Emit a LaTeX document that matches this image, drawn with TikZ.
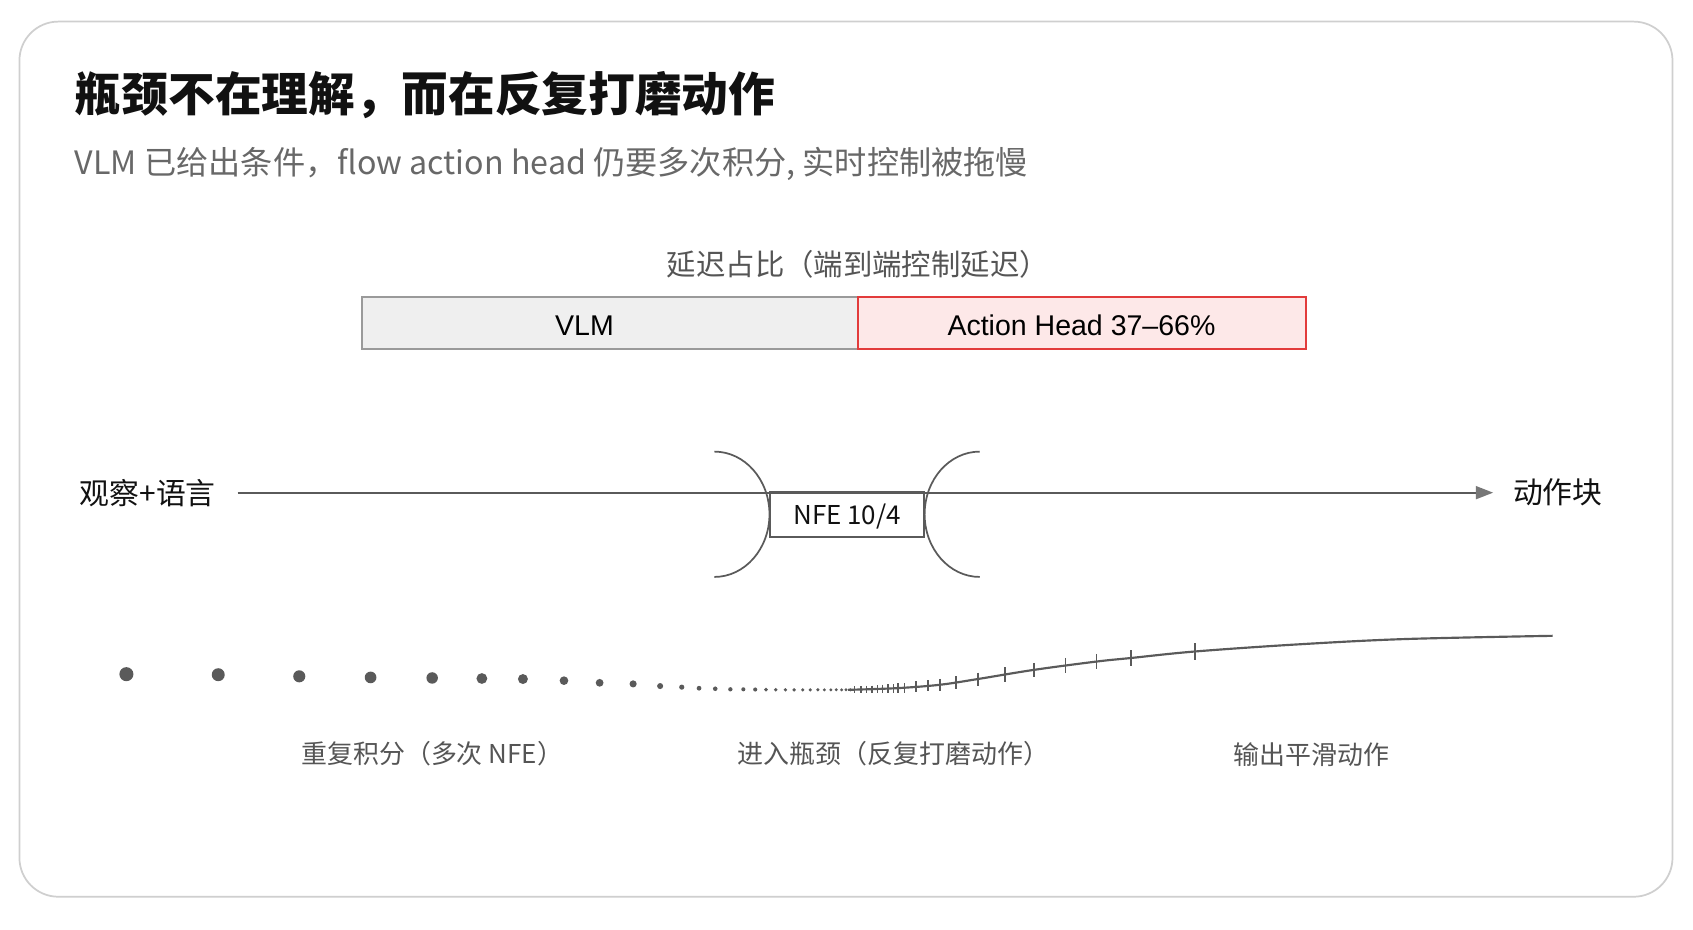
\documentclass[tikz,border=0pt]{standalone}
\usepackage{fontspec}
\setmainfont{Noto Sans CJK SC}
\newfontfamily\cjk{Noto Sans CJK SC}
\newfontfamily\latn{Liberation Sans}
\usetikzlibrary{arrows.meta}
\definecolor{framec}{HTML}{CFCFCF}
\definecolor{titlec}{HTML}{111111}
\definecolor{subc}{HTML}{686868}
\definecolor{labc}{HTML}{555555}
\definecolor{linec}{HTML}{5A5A5A}
\definecolor{vlmfill}{HTML}{EFEFEF}
\definecolor{vlmdraw}{HTML}{9A9A9A}
\definecolor{ahfill}{HTML}{FDE8E8}
\definecolor{ahdraw}{HTML}{E23B3B}
\definecolor{tipc}{HTML}{777777}
\tikzset{
  lab/.style={inner sep=0pt, text=labc, font=\cjk\fontsize{12pt}{13pt}\selectfont},
  barbox/.style={minimum height=24pt, inner sep=0pt, line width=0.7pt},
  bartxt/.style={inner sep=0pt, font=\latn\fontsize{13.2pt}{14pt}\selectfont, text=black},
  axlab/.style={inner sep=0pt, text=titlec, font=\cjk\fontsize{13.8pt}{15pt}\selectfont},
  gline/.style={draw=linec, line width=0.8pt},
  tickc/.style={draw=linec, line width=0.7pt},
}
\begin{document}
\begin{tikzpicture}[x=0.5pt,y=-0.5pt]
\useasboundingbox (0,0) rectangle (1567,860);
\fill[white] (0,0) rectangle (1567,860);
\draw[framec, line width=0.8pt, fill=white, rounded corners=18pt] (18,20) rectangle (1548,830);

\node[anchor=west, inner sep=0pt, text=titlec, font=\cjk\bfseries\fontsize{21.6pt}{24pt}\selectfont] (title) at (69,88) {瓶颈不在理解，而在反复打磨动作};
\node[anchor=west, inner sep=0pt, text=subc, font=\cjk\fontsize{14.9pt}{16pt}\selectfont] (subtitle) at (69,152) {VLM 已给出条件，flow action head 仍要多次积分, 实时控制被拖慢};

\node[inner sep=0pt, text=labc, font=\cjk\fontsize{13.6pt}{15pt}\selectfont] (barlabel) at (794,245) {延迟占比（端到端控制延迟）};
\node[barbox, draw=vlmdraw, fill=vlmfill, minimum width=229.5pt] (vlm) at (564.5,299) {};
\node[barbox, draw=ahdraw, fill=ahfill, minimum width=207.5pt] (ah) at (1001.5,299) {};
\node[bartxt] (vlmt) at (541,301) {VLM};
\node[bartxt] (aht) at (1001,301) {Action Head 37–66\%};

\node[axlab, anchor=east] (in) at (200,456) {观察+语言};
\node[axlab, anchor=west] (out) at (1400,456) {动作块};

\node[draw=linec, line width=0.8pt, minimum width=71pt, minimum height=21pt, inner sep=0pt] (nfe) at (784,476) {};
\node[inner sep=0pt, font=\fontsize{12pt}{13pt}\selectfont, text=titlec] (nfet) at (784,478) {NFE 10/4};

\draw[gline, -{Triangle[length=8pt,width=6pt,color=tipc]}, shorten <=10pt, shorten >=9pt] (in.east) -- (out.west);

\draw[gline] ([xshift=-25.5pt,yshift=29pt]nfe.west) arc[start angle=90, end angle=-90, x radius=25.5pt, y radius=29pt];
\draw[gline] ([xshift=25.5pt,yshift=29pt]nfe.east) arc[start angle=90, end angle=270, x radius=25.5pt, y radius=29pt];

% integration dots
\foreach \x/\y/\r in {117/624/6.5, 202/624.5/6, 277/626/5.6, 343/627/5.4, 400/627.5/5.3, 446/628/5, 484/628.5/4.6, 522/630/4, 555/632/3.6, 586/633/3.3, 611/635/2.8, 631/636/2.4, 647/637/2.2, 662/637.5/2.1, 676/638/2, 688/638/1.9, 699/638.2/1.9, 709/638.3/1.8, 718/638.4/1.8, 727/638.5/1.7, 735/638.5/1.7, 743/638.5/1.6, 750/638.5/1.6, 757/638.5/1.6, 763/638.5/1.5, 769/638.5/1.5, 774/638.5/1.5, 779/638.5/1.5, 783/638.5/1.5, 787/638.5/1.5}
  \fill[linec] (\x,\y) circle[radius=\r*0.5pt];

% smooth output curve
\draw[draw=linec, line width=1pt] plot[smooth, tension=0.55] coordinates {(785,638.5) (831,636.9) (870,633.8) (905,628.5) (957,620) (1015,612.3) (1047,609) (1106,603) (1200,596.5) (1300,591.5) (1437,588.5)};

\foreach \x/\y/\h in {791/638.4/3, 797/638.3/3, 802/638.1/3.5, 807/638/3.5, 812/637.8/3.5, 817/637.6/4, 822/637.4/4, 827/637.1/4, 831/636.9/4.5, 837/636.5/4.5, 848/635.7/5, 859/634.8/5, 870/633.8/5.5, 885/631.8/6, 905/628.5/6, 930/624.3/6.5, 957/620/6.5, 986/616/7, 1015/612.3/7, 1047/609/7, 1106/603/7.5}
  \draw[tickc] (\x,\y-\h) -- (\x,\y+\h);

\node[lab] (lab1) at (400,698) {重复积分（多次 NFE）};
\node[lab] (lab2) at (827,698) {进入瓶颈（反复打磨动作）};
\node[lab] (lab3) at (1214,698) {输出平滑动作};
\end{tikzpicture}
\end{document}
